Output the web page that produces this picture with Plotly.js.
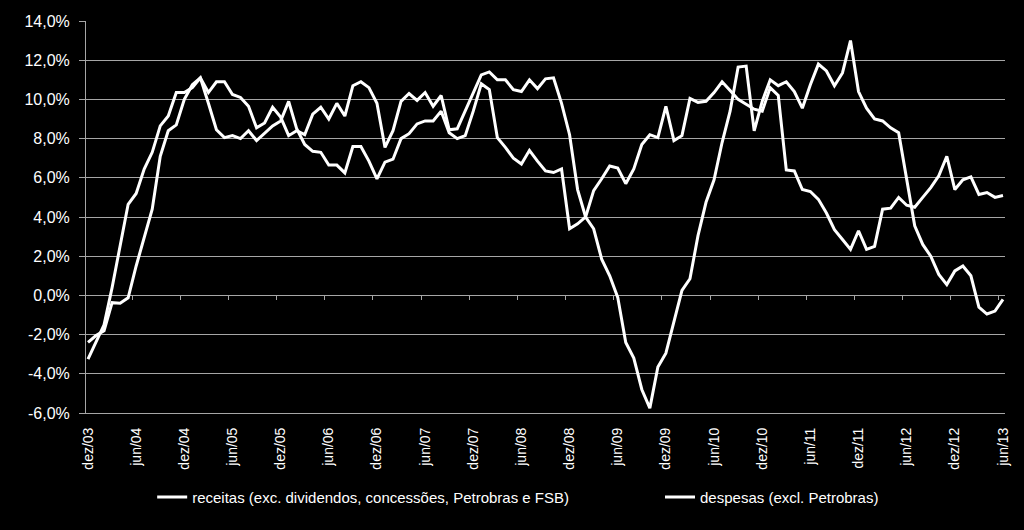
<!DOCTYPE html>
<html>
<head>
<meta charset="utf-8">
<script src="https://cdn.plot.ly/plotly-3.0.1.min.js"></script>
<style>html,body{margin:0;padding:0;background:#000;}#chart{width:1024px;height:530px;}</style>
</head>
<body>
<div id="chart"></div>
<script>
// month abbreviations (pt-BR) and period start
const monthAbbr = ['jan','fev','mar','abr','mai','jun','jul','ago','set','out','nov','dez'];
const startMonth = 11, startYear = 2003, nMonths = 115; // dez/03 .. jun/13

// categories (monthly)
const categories = [];
for (let k = 0; k < nMonths; k++) {
  const m = (startMonth + k) % 12;
  const y = startYear + Math.floor((startMonth + k) / 12);
  categories.push(monthAbbr[m] + '/' + String(y % 100).padStart(2, '0'));
}

// series values (12-month real growth, %)
const receitas = [
  -3.25, -2.4, -1.5, 0.4, 2.6, 4.65, 5.2, 6.45, 7.3, 8.65, 9.15, 10.35, 10.35, 10.6, 11.1,
  10.35, 10.9, 10.9, 10.25, 10.1, 9.65, 8.55, 8.8, 9.6, 9.1, 8.15, 8.4, 8.2, 9.25, 9.6,
  9.0, 9.8, 9.15, 10.7, 10.9, 10.6, 9.8, 7.55, 8.4, 9.9, 10.3, 9.95, 10.35, 9.65, 10.2,
  8.45, 8.5, 9.4, 10.3, 11.25, 11.4, 11.0, 11.0, 10.5, 10.4, 11.0, 10.55, 11.05, 11.1, 9.8,
  8.2, 5.4, 4.0, 3.4, 1.85, 1.0, -0.1, -2.4, -3.2, -4.8, -5.75, -3.65, -2.95, -1.35, 0.25,
  0.85, 3.05, 4.75, 5.9, 7.8, 9.4, 11.65, 11.7, 8.4, 9.9, 11.0,
  10.7, 10.9, 10.4, 9.55, 10.75, 11.8, 11.45, 10.7, 11.35, 13.0, 10.4, 9.55, 9.0, 8.9,
  8.55, 8.3, 5.9, 3.55, 2.6, 2.0, 1.07, 0.55, 1.25, 1.5, 1.0, -0.6, -0.95, -0.8, -0.2
];
const despesas = [
  -2.4, -2.05, -1.8, -0.37, -0.4, -0.12, 1.5, 3.0, 4.4, 7.1, 8.4, 8.7, 10.0, 10.75, 11.1,
  9.8, 8.45, 8.05, 8.15, 8.0, 8.4, 7.9, 8.3, 8.65, 8.9, 9.9, 8.5, 7.7, 7.35, 7.3,
  6.65, 6.65, 6.25, 7.6, 7.6, 6.85, 5.95, 6.8, 6.95, 8.0, 8.25, 8.75, 8.9, 8.9, 9.4,
  8.3, 8.0, 8.15, 9.4, 10.8, 10.5, 8.05, 7.55, 7.0, 6.7, 7.4, 6.85, 6.35, 6.27, 6.45,
  3.4, 3.65, 4.0, 5.35, 5.95, 6.6, 6.5, 5.7, 6.45, 7.7, 8.2, 8.05, 9.65, 7.9, 8.15,
  10.05, 9.85, 9.9, 10.35, 10.9, 10.45, 10.0, 9.75, 9.5, 9.4, 10.6,
  10.2, 6.4, 6.35, 5.4, 5.3, 4.9, 4.2, 3.35, 2.85, 2.35, 3.3, 2.35, 2.5, 4.4,
  4.45, 5.0, 4.6, 4.5, 5.0, 5.5, 6.1, 7.1, 5.4, 5.9, 6.05, 5.15, 5.25, 5.0, 5.1
];

// series names
const seriesNames = ['receitas (exc. dividendos, concessões, Petrobras e FSB)', 'despesas (excl. Petrobras)'];

// y tick labels
const yTickVals = [-6, -4, -2, 0, 2, 4, 6, 8, 10, 12, 14];
const yTickText = ['-6,0%', '-4,0%', '-2,0%', '0,0%', '2,0%', '4,0%', '6,0%', '8,0%', '10,0%', '12,0%', '14,0%'];

// x tick labels: every dez and jun
const xIdx = categories.map((_, i) => i);
const xTickVals = xIdx.filter(i => /^(dez|jun)/.test(categories[i]));
const xTickText = xTickVals.map(i => categories[i]);
// small tick marks on the 0% line, between categories
const zeroTickVals = xIdx.filter(i => /^(mai|nov)/.test(categories[i])).map(i => i + 0.5);

const lineStyle = {color: '#ffffff', width: 3};
const traces = [
  {x: xIdx, y: receitas, name: seriesNames[0], type: 'scatter', mode: 'lines', line: lineStyle, xaxis: 'x', legend: 'legend', hoverinfo: 'skip'},
  {x: xIdx, y: despesas, name: seriesNames[1], type: 'scatter', mode: 'lines', line: lineStyle, xaxis: 'x2', legend: 'legend2', hoverinfo: 'skip'}
];

const gridCol = '#a6a6a6';
const legendBase = {
  orientation: 'h', xanchor: 'left', y: -0.215, yanchor: 'middle',
  font: {size: 15, color: '#ffffff'}, bgcolor: 'rgba(0,0,0,0)'
};
const layout = {
  width: 1024, height: 530,
  paper_bgcolor: '#000000', plot_bgcolor: '#000000',
  font: {family: 'Liberation Sans, Arial, sans-serif', color: '#ffffff'},
  margin: {l: 86, r: 19, t: 21, b: 117},
  showlegend: true,
  legend: Object.assign({}, legendBase, {x: 0.072}),
  legend2: Object.assign({}, legendBase, {x: 0.6246}),
  xaxis: {
    type: 'linear', range: [-0.25, 114.25],
    tickmode: 'array', tickvals: xTickVals, ticktext: xTickText, tickangle: -90,
    tickfont: {size: 14, color: '#ffffff'}, ticks: '', ticklabelstandoff: 8,
    showgrid: false, zeroline: false, showline: true, linecolor: gridCol, linewidth: 1,
    fixedrange: true
  },
  xaxis2: {
    type: 'linear', matches: 'x', overlaying: 'x', anchor: 'free', position: 0.3, side: 'bottom',
    tickmode: 'array', tickvals: zeroTickVals, ticks: 'outside', ticklen: 4, tickwidth: 1, tickcolor: gridCol,
    showticklabels: false, showgrid: false, zeroline: false, showline: false
  },
  yaxis: {
    range: [-6, 14], tickmode: 'array', tickvals: yTickVals, ticktext: yTickText,
    tickfont: {size: 16, color: '#ffffff'}, ticks: 'outside', ticklen: 6, tickcolor: gridCol, ticklabelstandoff: 6,
    showgrid: true, gridcolor: gridCol, gridwidth: 1, zeroline: false,
    showline: true, linecolor: gridCol, linewidth: 1, fixedrange: true
  }
};

Plotly.newPlot('chart', traces, layout, {staticPlot: true, displayModeBar: false});
</script>
</body>
</html>
